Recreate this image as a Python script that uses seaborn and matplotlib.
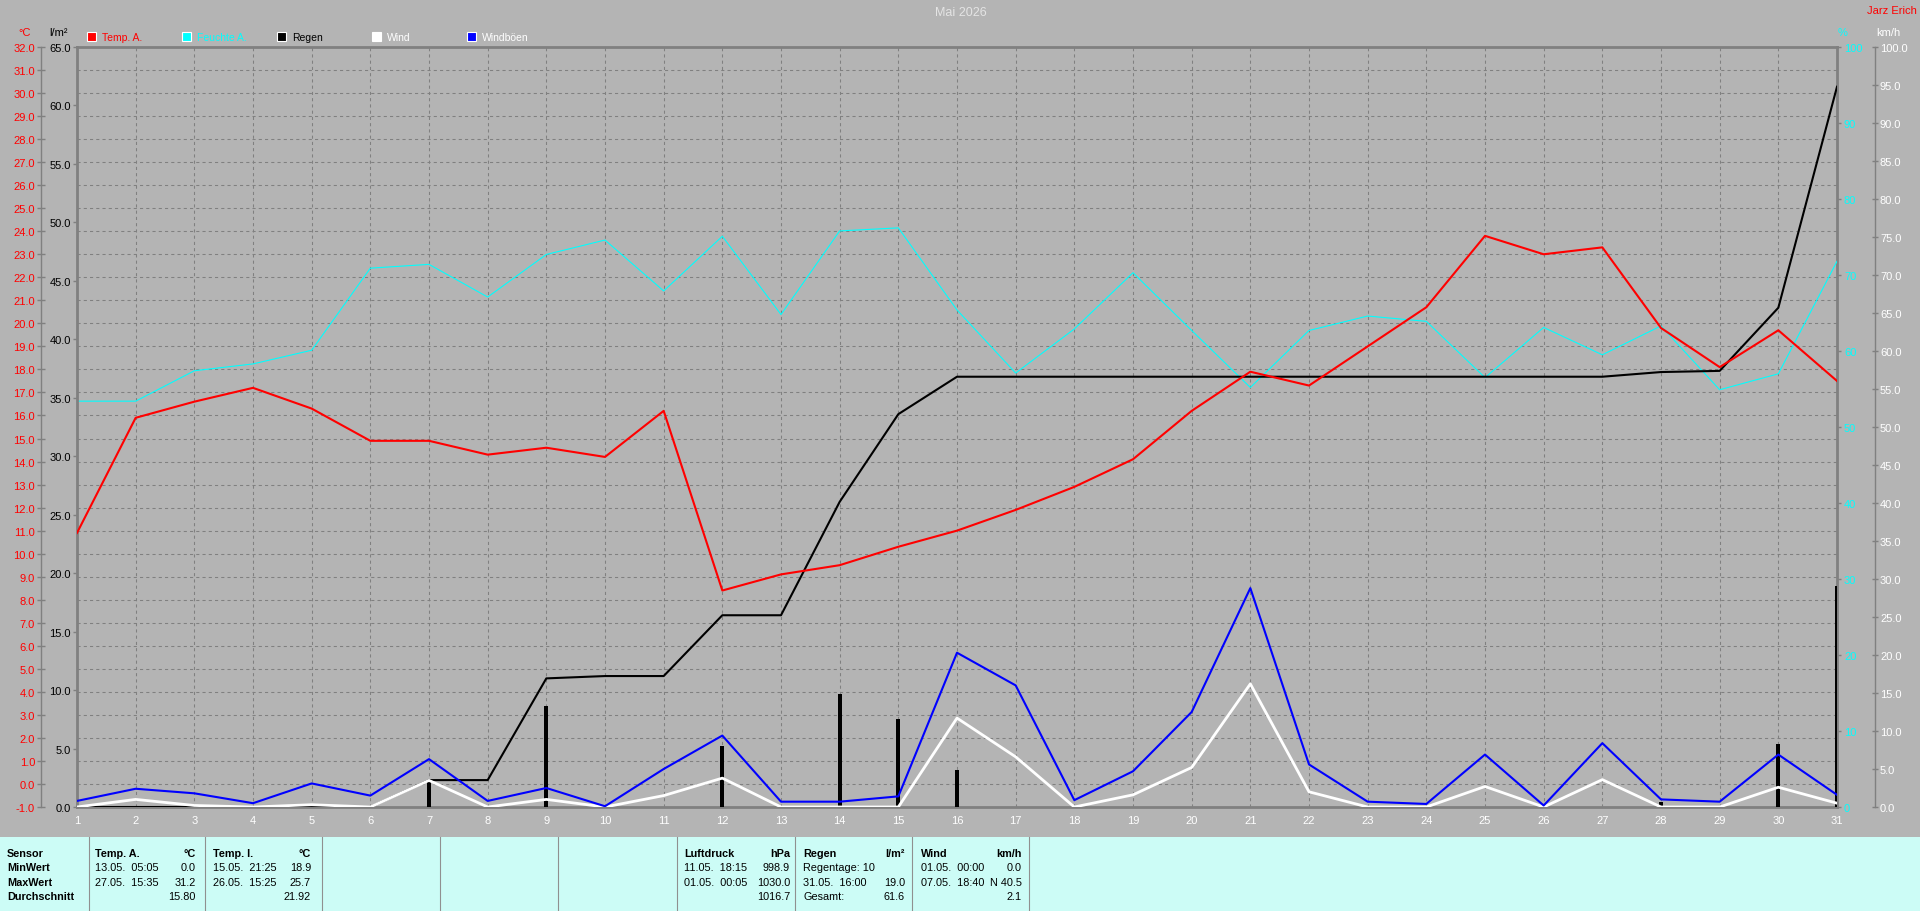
import numpy as np
import pandas as pd
import seaborn as sns
import matplotlib.pyplot as plt
from matplotlib.patches import Rectangle
from matplotlib.lines import Line2D

# Daily values for May 2026
days = list(range(1, 32))
temp_a = [10.9, 15.9, 16.6, 17.2, 16.3, 14.9, 14.9, 14.3, 14.6, 14.2, 16.2, 8.4, 9.1, 9.5, 10.3, 11.0,
          11.9, 12.9, 14.1, 16.2, 17.9, 17.3, 19.0, 20.7, 23.8, 23.0, 23.3, 19.8, 18.1, 19.7, 17.5]
humidity = [53.4, 53.4, 57.4, 58.3, 60.1, 70.9, 71.4, 67.1, 72.7, 74.6, 67.9, 75.1, 64.8, 75.8, 76.2, 65.4,
            57.1, 62.9, 70.3, 62.7, 55.2, 62.7, 64.6, 63.9, 56.5, 63.1, 59.5, 63.3, 54.9, 57.0, 71.8]
rain_total = [0, 0, 0, 0, 0, 0, 2.3, 2.3, 11.0, 11.2, 11.2, 16.4, 16.4, 26.1, 33.6, 36.8,
              36.8, 36.8, 36.8, 36.8, 36.8, 36.8, 36.8, 36.8, 36.8, 36.8, 36.8, 37.2, 37.3, 42.7, 61.6]
rain_day = [0, 0, 0, 0, 0, 0, 2.3, 0, 8.6, 0.2, 0, 5.2, 0, 9.7, 7.5, 3.2,
            0, 0, 0, 0, 0, 0, 0, 0, 0, 0, 0, 0.4, 0.1, 5.4, 18.9]
wind = [0.0, 1.0, 0.2, 0.0, 0.3, 0.0, 3.5, 0.0, 1.0, 0.0, 1.5, 3.8, 0.0, 0.0, 0.0, 11.7,
        6.6, 0.0, 1.6, 5.2, 16.2, 2.0, 0.0, 0.0, 2.7, 0.0, 3.6, 0.0, 0.0, 2.6, 0.5]
gust = [0.8, 2.4, 1.8, 0.5, 3.1, 1.5, 6.3, 0.8, 2.5, 0.1, 5.0, 9.4, 0.7, 0.7, 1.4, 20.3,
        16.0, 0.9, 4.7, 12.5, 28.8, 5.6, 0.7, 0.4, 6.9, 0.2, 8.4, 1.0, 0.7, 6.9, 1.6]

df = pd.DataFrame({'day': days, 'temp': temp_a, 'hum': humidity, 'rain': rain_total,
                   'rain_day': rain_day, 'wind': wind, 'gust': gust})

W, H = 1920, 912
BG = '#b4b4b4'
FRAME = '#808080'
CYAN = '#00ffff'
PT = 0.72  # points per pixel at 100 dpi

plt.rcParams['font.family'] = ['Liberation Sans', 'DejaVu Sans']
plt.rcParams['font.size'] = 8

def px(x, y):
    return x / W, 1 - y / H

fig = plt.figure(figsize=(W / 100, H / 100), dpi=100, facecolor=BG)
ax = fig.add_axes([77 / W, 1 - 808 / H, (1837 - 77) / W, (808 - 48) / H])
ax.set_facecolor(BG)

# main axes: grid, frame, temperature scale
ax.set_xlim(1, 31)
ax.set_ylim(-1, 32)
ax.set_xticks(days)
ax.set_xticklabels([str(d) for d in days])
ax.tick_params(axis='x', length=0, pad=6, labelcolor='white')
ax.set_yticks(np.arange(-1, 33))
ax.set_yticklabels([f'{v:.1f}' for v in np.arange(-1, 33)])
ax.tick_params(axis='y', direction='inout', length=8 * PT, width=1, color=FRAME,
               pad=2 * PT, labelcolor='#ff0000')
ax.grid(True, color=FRAME, linestyle=(0, (3, 3)), linewidth=0.75)
ax.spines['left'].set_position(('outward', 36 * PT))
ax.spines['left'].set_color(FRAME)
ax.spines['left'].set_linewidth(1)
for s in ['top', 'bottom', 'right']:
    ax.spines[s].set_color(FRAME)
    ax.spines[s].set_linewidth(2)

# humidity
ax_h = ax.twinx()
ax_h.set_ylim(0, 100)
ax_h.set_yticks(np.arange(0, 101, 10))
ax_h.set_yticklabels([str(v) for v in range(0, 101, 10)])
ax_h.tick_params(axis='y', length=4 * PT, width=1, color=FRAME, pad=3 * PT, labelcolor=CYAN)
for s in ax_h.spines.values():
    s.set_visible(False)
sns.lineplot(data=df, x='day', y='hum', ax=ax_h, color=CYAN, linewidth=0.8)

# rain
ax_r = ax.twinx()
ax_r.yaxis.tick_left()
ax_r.set_ylim(0, 65)
ax_r.set_yticks(np.arange(0, 66, 5))
ax_r.set_yticklabels([f'{v:.1f}' for v in np.arange(0, 66, 5)])
ax_r.tick_params(axis='y', length=4 * PT, width=1, color=FRAME, pad=1.5, labelcolor='black')
for s in ['top', 'bottom', 'right']:
    ax_r.spines[s].set_visible(False)
ax_r.spines['left'].set_color(FRAME)
ax_r.spines['left'].set_linewidth(2)
sns.lineplot(data=df, x='day', y='rain', ax=ax_r, color='black', linewidth=1.5)
ax_r.bar(df['day'], df['rain_day'], width=0.07, color='black', zorder=5)

# temperature line
ax_t = ax.twinx()
ax_t.set_ylim(-1, 32)
ax_t.set_yticks([])
for s in ax_t.spines.values():
    s.set_visible(False)
sns.lineplot(data=df, x='day', y='temp', ax=ax_t, color='#ff0000', linewidth=1.5)

# wind
ax_w = ax.twinx()
ax_w.set_ylim(0, 100)
ax_w.set_yticks(np.arange(0, 101, 5))
ax_w.set_yticklabels([f'{v:.1f}' for v in np.arange(0, 101, 5)])
ax_w.tick_params(axis='y', direction='inout', length=6 * PT, width=1, color=FRAME,
                 pad=2 * PT, labelcolor='white')
for s in ['top', 'bottom', 'left']:
    ax_w.spines[s].set_visible(False)
ax_w.spines['right'].set_position(('outward', 38 * PT))
ax_w.spines['right'].set_color(FRAME)
ax_w.spines['right'].set_linewidth(1)
sns.lineplot(data=df, x='day', y='wind', ax=ax_w, color='white', linewidth=2)
sns.lineplot(data=df, x='day', y='gust', ax=ax_w, color='#0000ff', linewidth=1.5)

for i, a in enumerate([ax, ax_h, ax_r, ax_t, ax_w]):
    a.set_zorder(i)
    a.set_xlabel('')
    a.set_ylabel('')
for a in [ax_h, ax_r, ax_t, ax_w]:
    a.patch.set_visible(False)
    a.set_xlim(1, 31)

# titles and unit labels
fig.text(*px(961, 13), 'Mai 2026', color='#e4e4e4', fontsize=9, ha='center', va='center')
fig.text(*px(1917, 11), 'Jarz Erich', color='#ff0000', fontsize=8, ha='right', va='center')
fig.text(*px(25, 33), '°C', color='#ff0000', fontsize=8, ha='center', va='center')
fig.text(*px(58, 33), 'l/m²', color='black', fontsize=8, ha='center', va='center')
fig.text(*px(1843, 33), '%', color=CYAN, fontsize=8, ha='center', va='center')
fig.text(*px(1888, 33), 'km/h', color='white', fontsize=8, ha='center', va='center')

# legend
legend = [('Temp. A.', '#ff0000', '#ff0000', 87),
          ('Feuchte A.', CYAN, CYAN, 182),
          ('Regen', 'black', 'black', 277),
          ('Wind', 'white', 'white', 372),
          ('Windböen', '#0000ff', 'white', 467)]
for label, fc, tc, x0 in legend:
    fig.patches.append(Rectangle(px(x0, 42), 9 / W, 9 / H, transform=fig.transFigure,
                                 facecolor=fc, edgecolor='white', linewidth=0.8))
    fig.text(*px(x0 + 15, 38), label, color=tc, fontsize=7.5, ha='left', va='center')

# statistics table
fig.patches.append(Rectangle((0, 0), 1, 74 / H, transform=fig.transFigure,
                             facecolor='#ccfcf6', edgecolor='none'))
for xs in [89, 205, 322, 440, 558, 677, 795, 912, 1029]:
    fig.add_artist(Line2D([xs / W, xs / W], [0, 74 / H], transform=fig.transFigure,
                          color='#909090', linewidth=0.8))

TF = ['Liberation Sans Narrow', 'DejaVu Sans Condensed', 'Liberation Sans']
FS = 7.8
rows_y = [854, 868.5, 883, 897.5]
sensor_col = ['Sensor', 'MinWert', 'MaxWert', 'Durchschnitt']
for y, t in zip(rows_y, sensor_col):
    fig.text(*px(7, y), t, family=TF, fontsize=FS, fontweight='bold', ha='left', va='center')

cells = [
    (95, 196, ('Temp. A.', '°C'), [('13.05.  05:05', '0.0'), ('27.05.  15:35', '31.2'), ('', '15.80')]),
    (213, 311, ('Temp. I.', '°C'), [('15.05.  21:25', '18.9'), ('26.05.  15:25', '25.7'), ('', '21.92')]),
    (684, 790, ('Luftdruck', 'hPa'), [('11.05.  18:15', '998.9'), ('01.05.  00:05', '1030.0'), ('', '1016.7')]),
    (803, 905, ('Regen', 'l/m²'), [('Regentage: 10', ''), ('31.05.  16:00', '19.0'), ('Gesamt:', '61.6')]),
    (921, 1022, ('Wind', 'km/h'), [('01.05.  00:00', '0.0'), ('07.05.  18:40', 'N 40.5'), ('', '2.1')]),
]
for xl, xr, head, body in cells:
    fig.text(*px(xl, rows_y[0]), head[0], family=TF, fontsize=FS, fontweight='bold', ha='left', va='center')
    fig.text(*px(xr, rows_y[0]), head[1], family=TF, fontsize=FS, fontweight='bold', ha='right', va='center')
    for y, (lt, rt) in zip(rows_y[1:], body):
        fig.text(*px(xl, y), lt, family=TF, fontsize=FS, ha='left', va='center')
        fig.text(*px(xr, y), rt, family=TF, fontsize=FS, ha='right', va='center')

fig.savefig('out.png', dpi=100, facecolor=BG)
